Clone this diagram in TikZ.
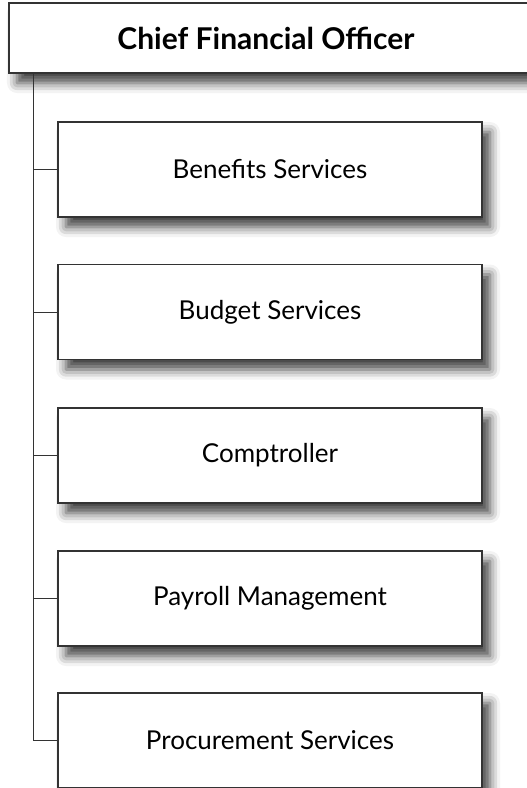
\documentclass[tikz,border=0pt]{standalone}
\usepackage{fontspec}
\setmainfont{Lato}
\usetikzlibrary{shadows.blur}
\definecolor{edge}{HTML}{333333}
\tikzset{
  boxshadow/.style={blur shadow={shadow xshift=8pt, shadow yshift=-10pt, shadow blur radius=10pt, shadow opacity=75}},
  headbox/.style={draw=edge, line width=1.2pt, fill=white, boxshadow, minimum width=526pt, minimum height=70pt, inner sep=0pt, font=\fontsize{30}{36}\selectfont\bfseries},
  unitbox/.style={draw=edge, line width=1.2pt, fill=white, boxshadow, minimum width=424pt, minimum height=95pt, inner sep=0pt, font=\fontsize{26}{31}\selectfont},
  link/.style={draw=black!80, line width=1pt}
}
\begin{document}
\begin{tikzpicture}[x=1pt, y=-1pt]
\useasboundingbox (0,0) rectangle (527,788);
\clip (0,0) rectangle (527,788);
\node[headbox] (cfo) at (272,38) {\hspace*{-12pt}Chief Financial Officer};
\coordinate (trunk) at (33,73);
\node[unitbox] (c1) at (270,169.5) {Benefits Services};
\node[unitbox] (c2) at (270,312) {Budget Services};
\node[unitbox] (c3) at (270,455.5) {Comptroller};
\node[unitbox] (c4) at (270,598.5) {Payroll Management};
\node[unitbox] (c5) at (270,740.5) {Procurement Services};
\foreach \c in {c1,c2,c3,c4,c5}{
  \draw[link] (trunk) |- (\c.west);
}
\end{tikzpicture}
\end{document}
